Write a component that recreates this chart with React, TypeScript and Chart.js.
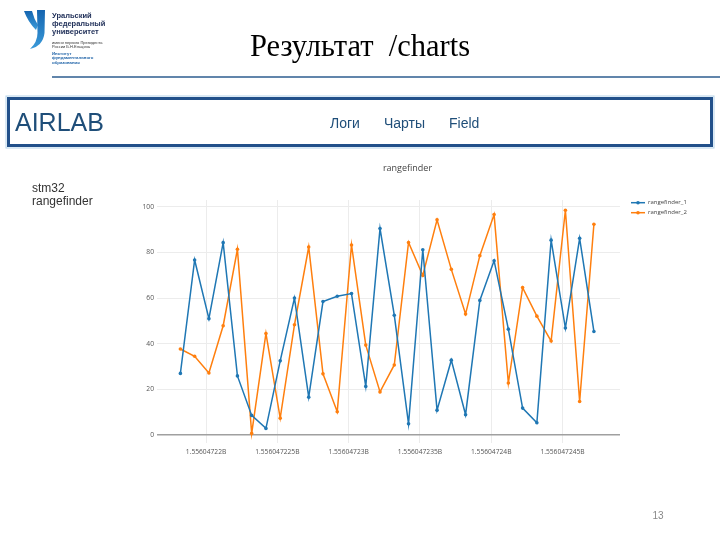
import React, { useEffect, useRef } from "react";
import { Chart, registerables } from "chart.js";

Chart.register(...registerables);

// ---- data ----
const timestamps = [
  1556047218.2, 1556047219.2, 1556047220.2, 1556047221.2, 1556047222.2,
  1556047223.2, 1556047224.2, 1556047225.2, 1556047226.2, 1556047227.2,
  1556047228.2, 1556047229.2, 1556047230.2, 1556047231.2, 1556047232.2,
  1556047233.2, 1556047234.2, 1556047235.2, 1556047236.2, 1556047237.2,
  1556047238.2, 1556047239.2, 1556047240.2, 1556047241.2, 1556047242.2,
  1556047243.2, 1556047244.2, 1556047245.2, 1556047246.2, 1556047247.2,
];
const rangefinder1 = [
  27, 76.7, 51, 84.3, 25.9, 8.6, 2.9, 32.5, 60, 16.6,
  58.5, 60.8, 62, 21.3, 90.5, 52.5, 4.9, 81.2, 10.9, 32.8,
  8.9, 59, 76.4, 46.4, 11.8, 5.4, 85.4, 46.9, 86.2, 45.4,
];
const rangefinder2 = [
  37.7, 34.5, 27.2, 47.9, 81.4, 0.7, 44.5, 7.4, 48.3, 82.4,
  26.8, 10.2, 83.3, 39.4, 18.9, 30.7, 84.4, 69.9, 94.3, 72.6,
  53, 78.6, 96.6, 22.8, 64.6, 52.1, 41.2, 98.5, 14.7, 92.4,
];
const seriesNames = ["rangefinder_1", "rangefinder_2"];
const seriesColors = ["#1f77b4", "#ff7f0e"];
const xTickValues = [1556047220, 1556047225, 1556047230, 1556047235, 1556047240, 1556047245];
const xTickLabels = ["1.55604722B", "1.556047225B", "1.55604723B", "1.556047235B", "1.55604724B", "1.556047245B"];
const yTickValues = [0, 20, 40, 60, 80, 100];
const chartTitle = "rangefinder";

const xMin = 1556047216.56;
const xMax = 1556047249.03;
const yMin = -3.5;
const yMax = 103;

const plotFont = '"Open Sans", Verdana, Arial, sans-serif';

const overlayPlugin = {
  id: "overlay",
  afterDraw(chart: any) {
    const ctx = chart.ctx as CanvasRenderingContext2D;
    ctx.save();
    // title
    ctx.fillStyle = "#444";
    ctx.font = `9px ${plotFont}`;
    ctx.textAlign = "center";
    ctx.textBaseline = "middle";
    ctx.fillText(chartTitle, 287.5, 18.5);
    // legend
    chart.data.datasets.forEach((ds: any, i: number) => {
      const y = 52.7 + i * 10;
      const x0 = 511;
      ctx.strokeStyle = ds.borderColor;
      ctx.lineWidth = 1.5;
      ctx.beginPath();
      ctx.moveTo(x0, y);
      ctx.lineTo(x0 + 14, y);
      ctx.stroke();
      ctx.fillStyle = ds.borderColor;
      ctx.beginPath();
      ctx.arc(x0 + 7, y, 1.8, 0, Math.PI * 2);
      ctx.fill();
      ctx.fillStyle = "#444";
      ctx.font = `6px ${plotFont}`;
      ctx.textAlign = "left";
      ctx.textBaseline = "middle";
      ctx.fillText(ds.label, x0 + 17, y);
    });
    ctx.restore();
  },
};

function ChartCanvas() {
  const ref = useRef<HTMLCanvasElement>(null);
  useEffect(() => {
    if (!ref.current) return;
    const mk = (vals: number[]) => vals.map((v, i) => ({ x: timestamps[i], y: v }));
    const chart = new Chart(ref.current, {
      type: "line",
      data: {
        datasets: [rangefinder1, rangefinder2].map((vals, i) => ({
          label: seriesNames[i],
          data: mk(vals),
          borderColor: seriesColors[i],
          backgroundColor: seriesColors[i],
          borderWidth: 1.5,
          pointRadius: 1.8,
          pointBorderWidth: 0,
          pointBackgroundColor: seriesColors[i],
          tension: 0,
          fill: false,
        })),
      },
      options: {
        animation: false,
        responsive: false,
        devicePixelRatio: 1,
        layout: { padding: { top: 50, right: 100, left: 0, bottom: 0 } },
        plugins: { legend: { display: false }, title: { display: false }, tooltip: { enabled: false } },
        scales: {
          x: {
            type: "linear",
            min: xMin,
            max: xMax,
            afterBuildTicks: (s: any) => {
              s.ticks = xTickValues.map((v) => ({ value: v }));
            },
            afterFit: (s: any) => {
              s.height = 37;
            },
            border: { display: false },
            grid: { color: "#ececec", lineWidth: 1, drawTicks: false },
            ticks: {
              padding: 5,
              autoSkip: false,
              maxRotation: 0,
              color: "#555",
              font: { size: 6.7, family: plotFont },
              callback: (v: any) => {
                const i = xTickValues.indexOf(Number(v));
                return i >= 0 ? xTickLabels[i] : "";
              },
            },
          },
          y: {
            type: "linear",
            min: yMin,
            max: yMax,
            afterBuildTicks: (s: any) => {
              s.ticks = yTickValues.map((v) => ({ value: v }));
            },
            afterFit: (s: any) => {
              s.width = 37;
            },
            border: { display: false },
            grid: {
              color: (c: any) => (c.tick && c.tick.value === 0 ? "#a0a0a0" : "#ececec"),
              lineWidth: (c: any) => (c.tick && c.tick.value === 0 ? 1.6 : 1),
              drawTicks: false,
            },
            ticks: {
              padding: 3,
              color: "#555",
              font: { size: 6.7, family: plotFont },
              callback: (v: any) => String(v),
            },
          },
        },
      },
      plugins: [overlayPlugin],
    } as any);
    return () => chart.destroy();
  }, []);
  return (
    <canvas
      ref={ref}
      width={600}
      height={330}
      style={{ position: "absolute", left: 120, top: 150, width: 600, height: 330 }}
    />
  );
}

export default function App() {
  const sans = '"Liberation Sans", Arial, sans-serif';
  return (
    <div
      style={{
        position: "fixed",
        left: 0,
        top: 0,
        width: 720,
        height: 540,
        background: "#ffffff",
        overflow: "hidden",
      }}
    >
      <ChartCanvas />
      <svg
        width={720}
        height={540}
        style={{ position: "absolute", left: 0, top: 0, pointerEvents: "none" }}
      >
        <defs>
          <linearGradient id="lg" x1="0" y1="0" x2="0" y2="1">
            <stop offset="0" stopColor="#1565b0" />
            <stop offset="1" stopColor="#3a9ad9" />
          </linearGradient>
        </defs>
        {/* logo mark */}
        <path d="M24,11 L32,11 Q34,19 38,25 L36,30 Q28,22 24,11 Z" fill="url(#lg)" />
        <path d="M37,10 L45,10 L44.5,33 Q43,46 30,49 Q37.5,42 37.5,33 Z" fill="url(#lg)" />
        <g fontFamily={sans} fill="#1c2c56" fontWeight="bold" fontSize={7.5}>
          <text x={52} y={17.5}>Уральский</text>
          <text x={52} y={25.8}>федеральный</text>
          <text x={52} y={34}>университет</text>
        </g>
        <g fontFamily={sans} fill="#333" fontSize={4}>
          <text x={52} y={43.5}>имени первого Президента</text>
          <text x={52} y={48}>России Б.Н.Ельцина</text>
        </g>
        <g fontFamily={sans} fill="#1f63a8" fontSize={4.3} fontWeight="bold">
          <text x={52} y={55}>Институт</text>
          <text x={52} y={59.3}>фундаментального</text>
          <text x={52} y={63.6}>образования</text>
        </g>
        <line x1={52} y1={77} x2={720} y2={77} stroke="#2c5d8f" strokeWidth={1.5} />
        {/* slide title */}
        <text
          x={360}
          y={56}
          textAnchor="middle"
          fontFamily='"Liberation Serif", "Times New Roman", serif'
          fontSize={30.5}
          fill="#000"
          style={{ whiteSpace: "pre" }}
        >
          Результат  /charts
        </text>
        {/* navbar */}
        <rect x={6} y={96} width={708} height={52} fill="none" stroke="#b5d3ea" strokeWidth={1} />
        <rect x={8.5} y={98.5} width={703} height={47} fill="#fff" stroke="#22508a" strokeWidth={3} />
        <text x={15} y={130.5} fontFamily={sans} fontSize={25} fill="#1f4e79">AIRLAB</text>
        <g fontFamily={sans} fontSize={14} fill="#1f4e79">
          <text x={330} y={128}>Логи</text>
          <text x={384} y={128}>Чарты</text>
          <text x={449} y={128}>Field</text>
        </g>
        {/* left label */}
        <g fontFamily={sans} fontSize={12} fill="#333">
          <text x={32} y={192}>stm32</text>
          <text x={32} y={205}>rangefinder</text>
        </g>
        {/* page number */}
        <text x={658} y={519} textAnchor="middle" fontFamily={sans} fontSize={10} fill="#888">13</text>
      </svg>
    </div>
  );
}
